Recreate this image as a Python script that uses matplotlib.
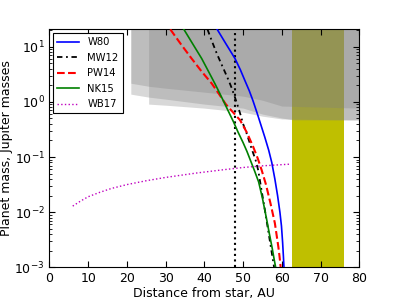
import matplotlib
matplotlib.use("Agg")
import matplotlib.pyplot as plt
import numpy as np

# ---- data ----
w80_x = [43.3, 45.5, 47.9, 49.3, 50.5, 51.6, 52.5, 53.6, 54.6, 55.6, 56.6, 57.4,
         58.2, 58.9, 59.5, 59.9, 60.2, 60.4, 60.55]
w80_logm = [1.315, 1.06, 0.786, 0.58, 0.38, 0.2, 0.03, -0.2, -0.42, -0.64, -0.875, -1.1,
            -1.4, -1.7, -2.0, -2.25, -2.55, -2.8, -3.0]

mw12_x = [40.8, 42.0, 43.2, 44.3, 45.3, 46.2, 47.0, 47.9, 48.7, 49.4, 50.0, 50.9,
          52.2, 53.2, 53.9, 54.8, 55.6, 56.4, 57.2, 58.0]
mw12_logm = [1.315, 1.09, 0.877, 0.7, 0.543, 0.4, 0.26, 0.08, -0.09, -0.25, -0.40, -0.57,
             -0.85, -1.05, -1.24, -1.62, -1.95, -2.3, -2.65, -3.0]

pw14_x = [31.2, 34.0, 36.7, 39.3, 41.9, 43.7, 45.5, 47.4, 49.2, 51.0, 52.6, 53.8,
          54.8, 55.9, 57.1, 58.2, 59.1, 59.4, 59.7]
pw14_logm = [1.315, 1.04, 0.786, 0.55, 0.333, 0.15, -0.04, -0.19, -0.33, -0.56, -0.815, -1.03,
             -1.24, -1.5, -1.85, -2.2, -2.63, -2.8, -3.0]

nk15_x = [34.7, 37.0, 39.3, 41.0, 42.7, 44.0, 45.3, 46.4, 47.5, 48.7, 50.0, 51.0,
          52.0, 53.0, 54.0, 55.0, 56.1, 56.8, 57.5, 58.0, 58.4]
nk15_logm = [1.315, 1.05, 0.786, 0.56, 0.333, 0.15, -0.04, -0.2, -0.36, -0.55, -0.74, -0.9,
             -1.08, -1.26, -1.45, -1.75, -2.14, -2.4, -2.65, -2.85, -3.0]

wb17_x = [6, 8, 10, 13, 16, 20, 25, 30, 38, 45, 50, 55, 62]
wb17_logm = [-1.89, -1.80, -1.72, -1.64, -1.57, -1.50, -1.43, -1.37, -1.29, -1.23, -1.19, -1.16, -1.13]

# detection-limit regions (lower bounds, Jupiter masses)
limA_x = [21.0, 25.6, 30, 40, 50, 55, 60, 63, 80]
limA_m = [1.38, 1.22, 1.12, 0.91, 0.77, 0.60, 0.51, 0.47, 0.47]
limB_x = [21.0, 25.6, 30, 40, 50, 55, 60, 80]
limB_m = [2.18, 1.92, 1.77, 1.50, 1.27, 1.07, 0.84, 0.77]
limC_x = [25.6, 30, 40, 50, 55, 60, 80]
limC_m = [0.91, 0.87, 0.77, 0.65, 0.55, 0.49, 0.47]

disk_gap = (62.6, 76.0)
vline_x = 47.8

labels = ["W80", "MW12", "PW14", "NK15", "WB17"]

# ---- plot ----
plt.rcParams.update({
    "xtick.direction": "in", "ytick.direction": "in",
    "xtick.top": True, "ytick.right": True,
    "xtick.major.size": 4, "ytick.major.size": 4,
    "xtick.minor.size": 2, "ytick.minor.size": 2,
    "font.size": 9,
})
fig = plt.figure(figsize=(3.99, 2.99), dpi=100)
ax = fig.add_axes([0.124, 0.106, 0.7765, 0.796])

ax.axvspan(disk_gap[0], disk_gap[1], color=(0.75, 0.75, 0), zorder=0, lw=0)
top = 100.0
for xs, ms in [(limA_x, limA_m), (limB_x, limB_m), (limC_x, limC_m)]:
    ax.fill_between(xs, ms, top, color="gray", alpha=0.3, lw=0, zorder=1)

ax.axvline(vline_x, color="k", ls=":", lw=1.5, zorder=2)

ax.plot(w80_x, 10 ** np.array(w80_logm), color="b", lw=1.2, label=labels[0], zorder=3)
ax.plot(mw12_x, 10 ** np.array(mw12_logm), color="k", lw=1.3, ls=(0, (3, 2, 1, 2)), label=labels[1], zorder=3)
ax.plot(pw14_x, 10 ** np.array(pw14_logm), color="r", lw=1.5, ls="--", label=labels[2], zorder=3)
ax.plot(nk15_x, 10 ** np.array(nk15_logm), color="g", lw=1.2, label=labels[3], zorder=3)
ax.plot(wb17_x, 10 ** np.array(wb17_logm), color="m", lw=1.0, ls=":", label=labels[4], zorder=3)

ax.set_yscale("log")
ax.set_xlim(0, 80)
ax.set_ylim(1e-3, 20.7)
ax.set_xticks(range(0, 81, 10))
ax.set_xlabel("Distance from star, AU", fontsize=9, labelpad=1)
ax.set_ylabel("Planet mass, Jupiter masses", fontsize=9, labelpad=1)
ax.tick_params(labelsize=9)

leg = ax.legend(loc="upper left", fontsize=7.2, fancybox=False, framealpha=1,
                edgecolor="k", borderaxespad=0.4, handlelength=2.2, labelspacing=0.55)
leg.get_frame().set_linewidth(0.8)

fig.savefig("out.png", dpi=100)
